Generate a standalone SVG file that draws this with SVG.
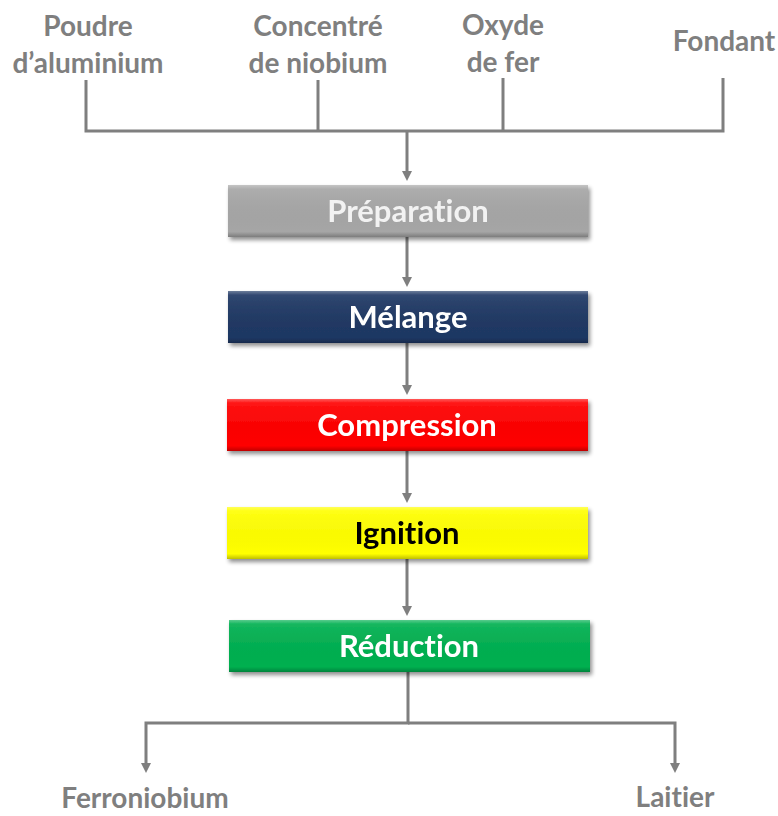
<svg xmlns="http://www.w3.org/2000/svg" width="778" height="816" viewBox="0 0 778 816">
<defs>
<style>
.lbl{font-family:Lato,"Open Sans","Liberation Sans",sans-serif;font-weight:bold;font-size:28px;fill:#7f7f7f;text-anchor:middle;font-variant-ligatures:none}
.btxt{font-family:Lato,"Open Sans","Liberation Sans",sans-serif;font-weight:bold;font-size:31px;text-anchor:middle;font-variant-ligatures:none}
.conn{stroke:#7f7f7f;stroke-width:3;fill:none}
.bevel{fill:url(#bev)}
</style>
<marker id="ah" markerWidth="10" markerHeight="10" refX="5" refY="5" orient="auto" markerUnits="userSpaceOnUse">
<path d="M0,0 L10,5 L0,10 z" fill="#7f7f7f"/>
</marker>
<linearGradient id="bev" x1="0" y1="0" x2="0" y2="1">
<stop offset="0" stop-color="#fff" stop-opacity="0.35"/>
<stop offset="0.08" stop-color="#fff" stop-opacity="0.08"/>
<stop offset="0.9" stop-color="#000" stop-opacity="0"/>
<stop offset="1" stop-color="#000" stop-opacity="0.25"/>
</linearGradient>
<filter id="sh" x="-5%" y="-20%" width="115%" height="160%">
<feGaussianBlur in="SourceAlpha" stdDeviation="2"/>
<feOffset dx="2" dy="3" result="b"/>
<feComponentTransfer><feFuncA type="linear" slope="0.45"/></feComponentTransfer>
<feMerge><feMergeNode/><feMergeNode in="SourceGraphic"/></feMerge>
</filter>
</defs>
<rect width="778" height="816" fill="#fff"/>

<g id="connectors">
<path class="conn" d="M86,80 V131 H723 V78"/>
<path class="conn" d="M318,80 V131"/>
<path class="conn" d="M503,78 V131"/>
<path class="conn" d="M407,131 V176" marker-end="url(#ah)"/>
<path class="conn" d="M407,237 V282" marker-end="url(#ah)"/>
<path class="conn" d="M407,343 V390" marker-end="url(#ah)"/>
<path class="conn" d="M407,451 V498" marker-end="url(#ah)"/>
<path class="conn" d="M407,559 V611" marker-end="url(#ah)"/>
<path class="conn" d="M408,672 V723 H146 V768" marker-end="url(#ah)"/>
<path class="conn" d="M408,723 H675 V768" marker-end="url(#ah)"/>
</g>

<g id="in-aluminium"><text class="lbl" x="88" y="36">Poudre</text><text class="lbl" x="88" y="73">d’aluminium</text></g>
<g id="in-niobium"><text class="lbl" x="318" y="36">Concentré</text><text class="lbl" x="318" y="73">de niobium</text></g>
<g id="in-oxyde"><text class="lbl" x="503" y="35">Oxyde</text><text class="lbl" x="503" y="72">de fer</text></g>
<g id="in-fondant"><text class="lbl" x="724" y="51">Fondant</text></g>

<g id="preparation" filter="url(#sh)">
<rect x="228" y="185" width="360" height="52" fill="#a6a6a6"/><rect class="bevel" x="228" y="185" width="360" height="52"/>
<text class="btxt" x="408" y="222" fill="#f2f2f2">Préparation</text></g>
<g id="melange" filter="url(#sh)">
<rect x="228" y="291" width="360" height="52" fill="#1f3864"/><rect class="bevel" x="228" y="291" width="360" height="52"/>
<text class="btxt" x="408" y="328" fill="#fff">Mélange</text></g>
<g id="compression" filter="url(#sh)">
<rect x="227" y="399" width="361" height="52" fill="#ff0000"/><rect class="bevel" x="227" y="399" width="361" height="52"/>
<text class="btxt" x="407" y="436" fill="#fff">Compression</text></g>
<g id="ignition" filter="url(#sh)">
<rect x="227" y="507" width="361" height="52" fill="#ffff00"/><rect class="bevel" x="227" y="507" width="361" height="52"/>
<text class="btxt" x="407" y="544" fill="#000">Ignition</text></g>
<g id="reduction" filter="url(#sh)">
<rect x="229" y="620" width="361" height="52" fill="#00b050"/><rect class="bevel" x="229" y="620" width="361" height="52"/>
<text class="btxt" x="409" y="657" fill="#fff">Réduction</text></g>

<g id="out-ferroniobium"><text class="lbl" x="145" y="808">Ferroniobium</text></g>
<g id="out-laitier"><text class="lbl" x="675" y="807">Laitier</text></g>
</svg>
